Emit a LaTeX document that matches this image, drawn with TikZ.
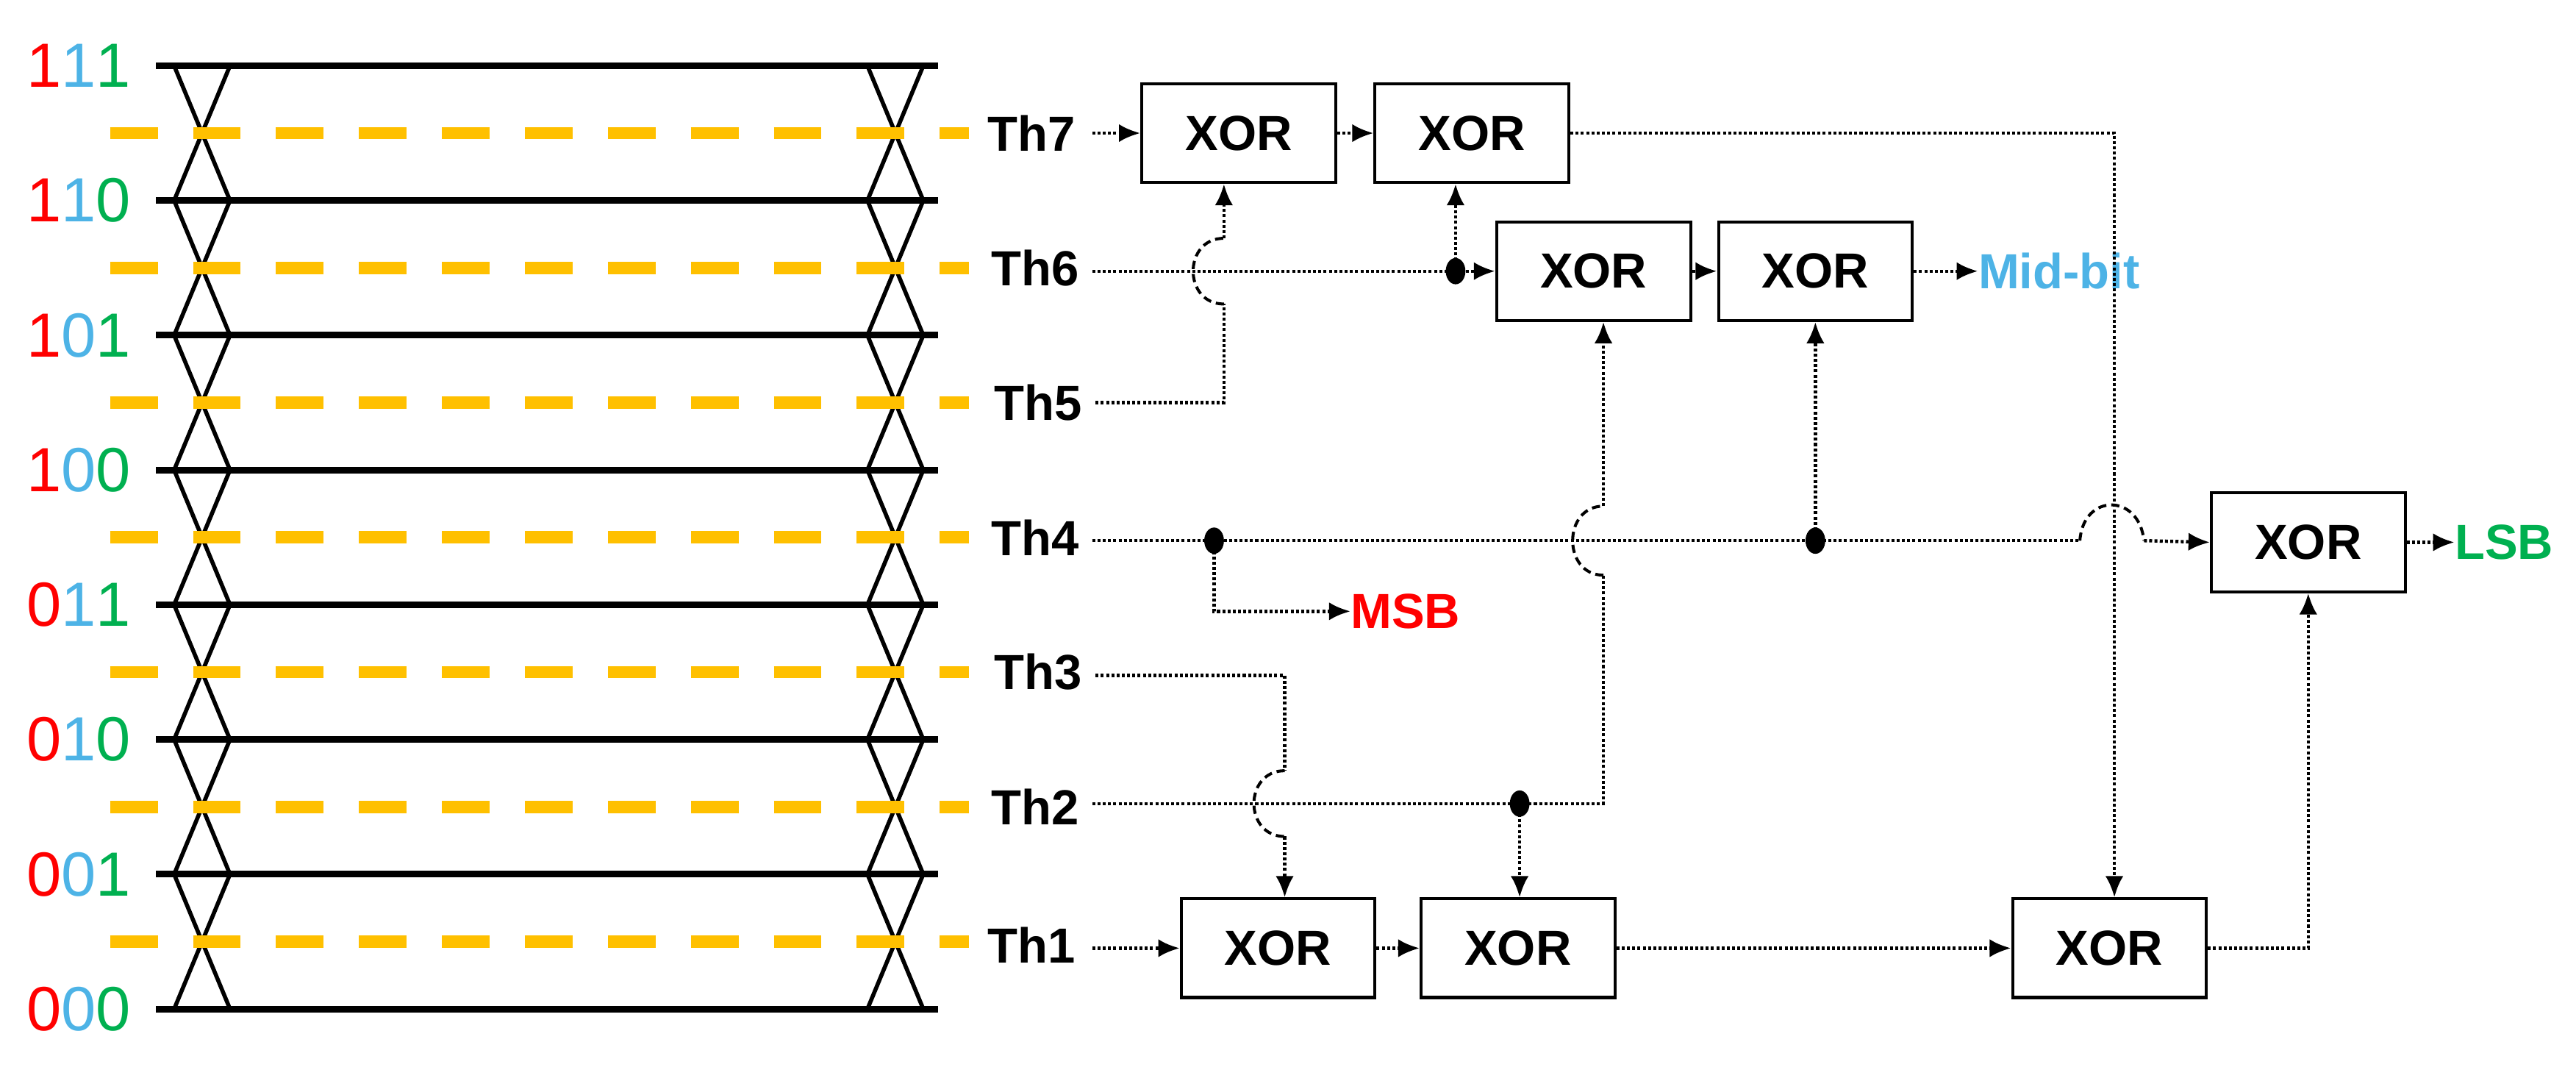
\documentclass[tikz,border=0pt]{standalone}
\usepackage{fontspec}
\setmainfont{Liberation Sans}
\usetikzlibrary{arrows.meta}
\definecolor{myorange}{HTML}{FFC000}
\definecolor{myred}{HTML}{FF0000}
\definecolor{myblue}{HTML}{4DB3E6}
\definecolor{mygreen}{HTML}{00B050}
\begin{document}
\begin{tikzpicture}[x=1pt,y=-1pt,
  box/.style={draw,line width=1.8pt,minimum width=118pt,minimum height=60pt,inner sep=0pt,font=\fontsize{30}{34}\selectfont\bfseries},
  th/.style={font=\fontsize{30}{34}\selectfont\bfseries,inner sep=0pt},
  lvl/.style={font=\fontsize{38}{42}\selectfont,inner sep=0pt},
  wire/.style={line width=2pt,dash pattern=on 1.8pt off 1.4pt},
  arr/.style={wire,-{Latex[length=13pt,width=11pt]}},
  jump/.style={line width=1.8pt,dash pattern=on 5pt off 3pt},
  solid/.style={line width=4pt},
  tri/.style={line width=2.5pt},
  orng/.style={line width=7.5pt,myorange,dash pattern=on 29pt off 21.5pt},
  dot/.style={fill=black,draw=none}]
\useasboundingbox (0,0) rectangle (1568,649);
% ladder
\foreach \y in {40,122,204,286,368,450,532,614}{\draw[solid] (95,\y) -- (571,\y);}
\foreach \cx in {123,545}{
  \foreach \t/\m in {40/81,122/163,204/245,286/327,368/409,450/491,532/573}{
    \draw[tri,line join=round] (\cx-17,\t) -- (\cx,\m) -- (\cx+17,\t);
    \draw[tri,line join=round] (\cx-17,\t+82) -- (\cx,\m) -- (\cx+17,\t+82);
  }}
\fill[white] (80,616) rectangle (590,649);
\draw[solid] (95,614) -- (571,614);
\foreach \y in {81,163,245,327,409,491,573}{\draw[orng] (67,\y) -- (590,\y);}
% level labels
\node[lvl] (l7) at (48,40) {\textcolor{myred}{1}\textcolor{myblue}{1}\textcolor{mygreen}{1}};
\node[lvl] (l6) at (48,122) {\textcolor{myred}{1}\textcolor{myblue}{1}\textcolor{mygreen}{0}};
\node[lvl] (l5) at (48,204) {\textcolor{myred}{1}\textcolor{myblue}{0}\textcolor{mygreen}{1}};
\node[lvl] (l4) at (48,286) {\textcolor{myred}{1}\textcolor{myblue}{0}\textcolor{mygreen}{0}};
\node[lvl] (l3) at (48,368) {\textcolor{myred}{0}\textcolor{myblue}{1}\textcolor{mygreen}{1}};
\node[lvl] (l2) at (48,450) {\textcolor{myred}{0}\textcolor{myblue}{1}\textcolor{mygreen}{0}};
\node[lvl] (l1) at (48,532) {\textcolor{myred}{0}\textcolor{myblue}{0}\textcolor{mygreen}{1}};
\node[lvl] (l0) at (48,614) {\textcolor{myred}{0}\textcolor{myblue}{0}\textcolor{mygreen}{0}};
% Th labels
\node[th] (t7) at (628,81) {Th7};
\node[th] (t6) at (630,163) {Th6};
\node[th] (t5) at (632,245) {Th5};
\node[th] (t4) at (630,327) {Th4};
\node[th] (t3) at (632,409) {Th3};
\node[th] (t2) at (630,491) {Th2};
\node[th] (t1) at (628,575) {Th1};
% boxes
\node[box] (A) at (754,81) {XOR};
\node[box] (B) at (896,81) {XOR};
\node[box] (C) at (970,165) {XOR};
\node[box] (D) at (1105,165) {XOR};
\node[box] (E) at (1405,330) {XOR};
\node[box] (F1) at (778,577) {XOR};
\node[box] (F2) at (924,577) {XOR};
\node[box] (F3) at (1284,577) {XOR};
\node[th,myblue,anchor=west] (mid) at (1204,165) {Mid-bit};
\node[th,myred,anchor=west] (msb) at (822,372) {MSB};
\node[th,mygreen,anchor=west] (lsb) at (1494,330) {LSB};
% junctions and bends
\coordinate (j6) at (886,165);
\coordinate (j4a) at (739,329);
\coordinate (j4b) at (1105,329);
\coordinate (j2) at (925,489);
\coordinate (v5) at (745,145);
\coordinate (v3) at (782,509);
\coordinate (v2) at (976,308);
\coordinate (vb) at (1287,81);
\coordinate (ve) at (1405,577);
% Th7 / Th6 / Th5
\draw[arr] (t7.east)+(10,0) -- (A.west);
\draw[arr] (A.east) -- (B.west);
\draw[wire] (t6.east)+(8,2) -- (j6);
\draw[arr] (j6) -- (C.west);
\draw[arr] (j6) -- (j6 |- B.south);
\draw[wire] (t5.east)+(8,0) -- (745,245) -- (745,185);
\draw[jump] (745,185) .. controls (720,185) and (720,145) .. (v5);
\draw[arr] (v5) -- (v5 |- A.south);
\draw[arr] (C.east) -- (D.west);
\draw[arr] (D.east) -- (mid.west);
\draw[arr] (B.east) -- (vb) -- (vb |- F3.north);
% Th4
\draw[wire] (t4.east)+(8,2) -- (1266,329);
\draw[jump] (1266,329) .. controls (1268,300) and (1302,300) .. (1305,329);
\draw[arr] (1305,329) -- (E.west);
\draw[arr] (j4a) -- (739,372) -- (msb.west);
\draw[arr] (j4b) -- (j4b |- D.south);
% Th3 / Th2
\draw[wire] (t3.east)+(8,2) -- (782,411) -- (782,469);
\draw[jump] (782,469) .. controls (757,469) and (757,509) .. (v3);
\draw[arr] (v3) -- (v3 |- F1.north);
\draw[wire] (t2.east)+(8,-2) -- (976,489) -- (976,350);
\draw[jump] (976,350) .. controls (951,350) and (951,308) .. (v2);
\draw[arr] (v2) -- (v2 |- C.south);
\draw[arr] (j2) -- (j2 |- F2.north);
% Th1
\draw[arr] (t1.east)+(10,2) -- (F1.west);
\draw[arr] (F1.east) -- (F2.west);
\draw[arr] (F2.east) -- (F3.west);
\draw[arr] (F3.east) -- (ve) -- (E.south);
\draw[arr] (E.east) -- (lsb.west);
% dots
\foreach \p in {j6,j4a,j4b,j2}{\fill[dot] (\p) ellipse (6pt and 8pt);}
\end{tikzpicture}
\end{document}
